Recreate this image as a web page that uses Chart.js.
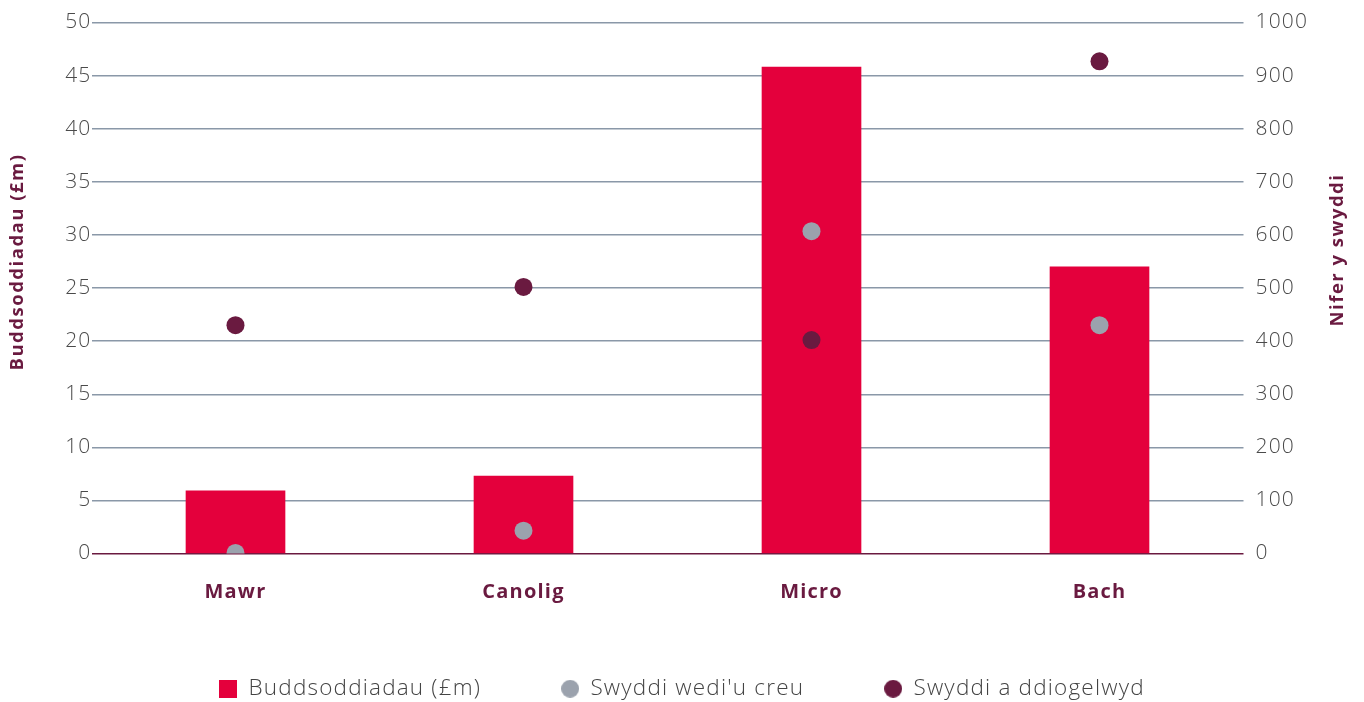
<!DOCTYPE html>
<html>
<head>
<meta charset="utf-8">
<script src="https://cdn.jsdelivr.net/npm/chart.js@4.4.1/dist/chart.umd.min.js"></script>
<style>
html,body{margin:0;padding:0;background:#fff;}
#wrap{width:1364px;height:702px;position:relative;}
</style>
</head>
<body>
<div id="wrap"><canvas id="c" width="1364" height="702"></canvas></div>
<script>
const categories = ['Mawr', 'Canolig', 'Micro', 'Bach'];
const investment = [5.9, 7.3, 45.8, 27];
const jobsCreated = [1, 43, 607, 430];
const jobsSafeguarded = [430, 502, 402, 927];
const seriesNames = ['Buddsoddiadau (£m)', "Swyddi wedi'u creu", 'Swyddi a ddiogelwyd'];
const leftTitle = 'Buddsoddiadau (£m)';
const rightTitle = 'Nifer y swyddi';

const RED = '#E4003C', GREY = '#9BA2AD', PLUM = '#6A1A40';
const TICK = '#4a4a4a', GRID = '#8A98A8';
const FONT = "'Open Sans', sans-serif";
const SPACING = '1.2px';

function marker(color, shape) {
  const c = document.createElement('canvas');
  c.width = 18; c.height = 18;
  const g = c.getContext('2d');
  g.fillStyle = color;
  if (shape === 'rect') g.fillRect(0, 0, 18, 18);
  else { g.beginPath(); g.arc(9, 9, 9, 0, Math.PI * 2); g.fill(); }
  return c;
}
const legendMarkers = [marker(GREY, 'circle'), marker(PLUM, 'circle'), marker(RED, 'rect')];
const legendOrder = [1, 2, 0];

const spacingPlugin = {
  id: 'spacing',
  beforeLayout(chart) { chart.ctx.letterSpacing = SPACING; },
  beforeDraw(chart) { chart.ctx.letterSpacing = SPACING; }
};

const axisTitles = {
  id: 'axisTitles',
  afterDraw(chart) {
    const ctx = chart.ctx;
    const draw = (text, x, y) => {
      ctx.save();
      ctx.letterSpacing = '1.5px';
      ctx.font = "bold 18.5px " + FONT;
      ctx.fillStyle = PLUM;
      ctx.textAlign = 'center';
      ctx.textBaseline = 'middle';
      ctx.translate(x, y);
      ctx.rotate(-Math.PI / 2);
      ctx.fillText(text, 0, 0);
      ctx.restore();
    };
    draw(leftTitle, 18, 262);
    draw(rightTitle, 1338, 250);
  }
};

new Chart(document.getElementById('c'), {
  plugins: [spacingPlugin, axisTitles],
  data: {
    labels: categories,
    datasets: [
      { type: 'line', label: seriesNames[1], data: jobsCreated, yAxisID: 'y1', showLine: false,
        pointRadius: 9, pointHoverRadius: 9, pointBackgroundColor: GREY, pointBorderWidth: 0,
        backgroundColor: GREY, borderColor: GREY, order: 1 },
      { type: 'line', label: seriesNames[2], data: jobsSafeguarded, yAxisID: 'y1', showLine: false,
        pointRadius: 9, pointHoverRadius: 9, pointBackgroundColor: PLUM, pointBorderWidth: 0,
        backgroundColor: PLUM, borderColor: PLUM, order: 0 },
      { type: 'bar', label: seriesNames[0], data: investment, yAxisID: 'y',
        backgroundColor: RED, borderWidth: 0, barThickness: 99, order: 2 }
    ]
  },
  options: {
    responsive: false,
    animation: false,
    layout: { padding: { top: 21, bottom: -8, left: 0, right: 0 } },
    plugins: {
      tooltip: { enabled: false },
      legend: {
        position: 'bottom',
        labels: {
          sort: (a, b) => legendOrder[a.datasetIndex] - legendOrder[b.datasetIndex],
          usePointStyle: true,
          boxWidth: 18,
          boxHeight: 18,
          padding: 80,
          color: '#444',
          font: { family: FONT, size: 22.5, weight: 300 },
          generateLabels(chart) {
            const items = Chart.defaults.plugins.legend.labels.generateLabels(chart);
            items.forEach(it => { it.pointStyle = legendMarkers[it.datasetIndex]; it.lineWidth = 0; });
            return items;
          }
        }
      }
    },
    scales: {
      x: {
        grid: { display: false, drawTicks: false },
        border: { display: false },
        ticks: { color: PLUM, padding: 27, font: { family: FONT, size: 20, weight: 'bold' } },
        afterFit(s) { s.height = 44; s._computeLabelArea = () => null; }
      },
      y: {
        position: 'left', min: 0, max: 50,
        ticks: { stepSize: 5, color: TICK, padding: 0, font: { family: FONT, size: 21, weight: 300, lineHeight: 1 } },
        grid: { drawTicks: false, lineWidth: 1.4, color: ctx => ctx.tick && ctx.tick.value === 0 ? PLUM : GRID },
        border: { display: false },
        afterFit(s) { s.width = 91.5; }
      },
      y1: {
        position: 'right', min: 0, max: 1000,
        ticks: { stepSize: 100, color: TICK, padding: 12, callback: v => String(v), font: { family: FONT, size: 21, weight: 300, lineHeight: 1 } },
        grid: { display: false, drawTicks: false },
        border: { display: false },
        afterFit(s) { s.width = 120.5; }
      }
    }
  }
});
</script>
</body>
</html>
